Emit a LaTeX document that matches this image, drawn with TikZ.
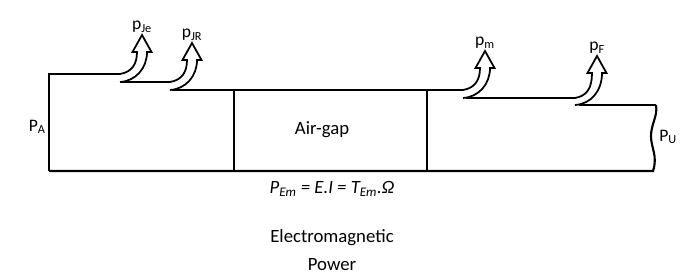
\documentclass[tikz,border=0pt]{standalone}
\usepackage{fontspec}
\setmainfont{Carlito}
\usetikzlibrary{positioning}

\begin{document}
\begin{tikzpicture}[x=0.03cm,y=-0.03cm,
    frame/.style={line width=1.8pt,line join=miter},
    divider/.style={line width=0.9pt},
    loss/.style={line width=1.5pt,line join=miter},
    lbl/.style={font=\fontsize{15}{17}\selectfont,inner sep=1pt},
    txt/.style={font=\fontsize{16}{19}\selectfont,inner sep=0pt}]
        \useasboundingbox (0,0) rectangle (695,277);
        % outline of the power flow
        \coordinate (bl) at (49,171);
        \coordinate (tl) at (49,74);
        \coordinate (tr) at (656,105);
        \coordinate (br) at (653,171);
        \draw[frame] (bl) -- (tl) -- (120,74);
        \draw[frame] (120,82) -- (170,82);
        \draw[frame] (172,90) -- (463,90);
        \draw[frame] (466,98) -- (575,98);
        \draw[frame] (579,105) -- (tr);
        \draw[frame] (tr) .. controls (658,116) and (651,124) .. (651,136)
            .. controls (651,148) and (658,156) .. (br) -- (bl);
        \draw[divider] (234,90) -- (234,171);
        \draw[divider] (427,90) -- (427,171);
        % loss arrows
        \foreach \x/\yt/\yb/\yh/\lab [count=\i] in {120/74/82/52/{p\textsubscript{Je}},
                170/82/90/60/{p\textsubscript{JR}},
                463/90/98/68/{p\textsubscript{m}},
                575/98/105/73/{p\textsubscript{F}}} {
            \draw[loss] (\x,\yt) .. controls (\x+12,\yt-2) and (\x+17,\yt-10) .. (\x+17,\yh)
                -- (\x+12.5,\yh) -- (\x+22,\yh-17) -- (\x+31.5,\yh) -- (\x+27,\yh)
                .. controls (\x+27,\yb-14) and (\x+16,\yb-1) .. (\x,\yb);
            \node[lbl,above] (p\i) at (\x+22,\yh-18) {\lab};
        }
        \node[lbl,left] (pa) at (47,127) {P\textsubscript{A}};
        \node[lbl,right] (pu) at (658,137) {P\textsubscript{U}};
        \node[txt] (gap) at (322,130) {Air-gap};
        \node[txt] (pem) at (332,189) {\textit{P\textsubscript{Em} = E.I = T\textsubscript{Em}.Ω}};
        \node[txt,align=center] (em) at (332,250) {Electromagnetic\\[5pt]Power};
    \end{tikzpicture}
\end{document}
